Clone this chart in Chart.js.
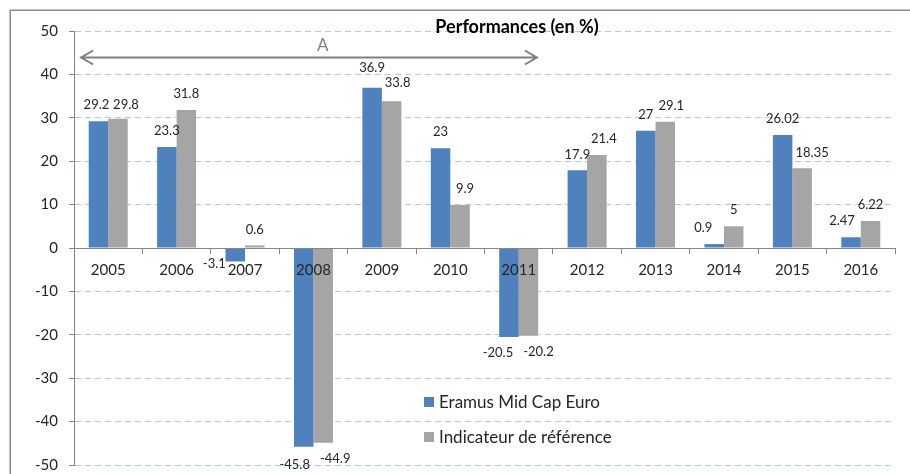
<!DOCTYPE html>
<html><head><meta charset="utf-8">
<script src="https://cdn.jsdelivr.net/npm/chart.js@4/dist/chart.umd.min.js"></script>
<style>html,body{margin:0;padding:0;background:#fff;overflow:hidden}#wrap{width:910px;height:474px;position:relative}</style>
</head><body><div id="wrap"><canvas id="c" width="910" height="474"></canvas></div>
<script>
const categories = ['2005','2006','2007','2008','2009','2010','2011','2012','2013','2014','2015','2016'];
const seriesNames = ['Eramus Mid Cap Euro', 'Indicateur de référence'];
const fundValues = [29.2, 23.3, -3.1, -45.8, 36.9, 23, -20.5, 17.9, 27, 0.9, 26.02, 2.47];
const benchValues = [29.8, 31.8, 0.6, -44.9, 33.8, 9.9, -20.2, 21.4, 29.1, 5, 18.35, 6.22];
const yTicks = [-50, -40, -30, -20, -10, 0, 10, 20, 30, 40, 50];
const titleText = 'Performances (en %)';
const arrowText = 'A';
const arrowFrom = 0, arrowTo = 6, arrowLevel = 44;

// small label nudges (px) mimicking Excel's manual label placement
const fundNudge = [[-2,0],[0,0],[-21,-14],[-9,2],[0,-4],[0,0],[-11,0],[0,0],[0,0],[-11,0],[0,0],[-9,0]];
const benchNudge = [[8,2],[0,0],[0,0],[12,0],[6,-2],[5,0],[10,0],[7,0],[6,0],[0,0],[10,0],[0,0]];

const FONT = 'Lato, "Open Sans", sans-serif';
const BLUE = '#4F81BD', GREY = '#A5A5A5', TXT = '#262626', AXIS = '#868686';

const decor = {
  id: 'decor',
  beforeDraw(chart) {
    const c = chart.ctx;
    c.save();
    c.fillStyle = '#fff';
    c.fillRect(0, 0, chart.width, chart.height);
    c.strokeStyle = '#8C8C8C';
    c.lineWidth = 1.5;
    c.strokeRect(10.25, 10.25, chart.width + 20, chart.height + 20);
    c.restore();
  },
  afterDatasetsDraw(chart) {
    const c = chart.ctx;
    const nudges = [fundNudge, benchNudge];
    c.save();
    c.font = '13px ' + FONT;
    c.fillStyle = TXT;
    c.textAlign = 'center';
    c.textBaseline = 'middle';
    chart.data.datasets.forEach((ds, di) => {
      const meta = chart.getDatasetMeta(di);
      meta.data.forEach((el, i) => {
        const v = ds.data[i];
        const n = nudges[di][i];
        const ty = v >= 0 ? el.y - 16 : el.y + 16;
        c.fillText(String(v), el.x + n[0], ty + n[1]);
      });
    });
    c.restore();
  },
  afterDraw(chart) {
    const c = chart.ctx;
    const xs = chart.scales.x, ys = chart.scales.y;
    const step = xs.getPixelForValue(1) - xs.getPixelForValue(0);
    c.save();
    // title
    c.font = 'bold 18px ' + FONT;
    c.fillStyle = '#000';
    c.textAlign = 'center';
    c.textBaseline = 'middle';
    c.fillText(titleText, 517, 27);
    // arrow
    const ay = Math.round(ys.getPixelForValue(arrowLevel)) + 0.5;
    const x1 = xs.getPixelForValue(arrowFrom) - step * 0.41;
    const x2 = xs.getPixelForValue(arrowTo) + step * 0.28;
    c.strokeStyle = '#7F7F7F';
    c.lineWidth = 2;
    c.beginPath();
    c.moveTo(x1, ay); c.lineTo(x2, ay);
    c.moveTo(x1 + 13, ay - 7); c.lineTo(x1 + 1, ay); c.lineTo(x1 + 13, ay + 7);
    c.moveTo(x2 - 13, ay - 7); c.lineTo(x2 - 1, ay); c.lineTo(x2 - 13, ay + 7);
    c.stroke();
    c.font = '17px ' + FONT;
    c.fillStyle = '#7F7F7F';
    c.fillText(arrowText, x1 + (x2 - x1) * 0.53, ay - 12);
    // legend
    const colors = [BLUE, GREY];
    c.font = '17px ' + FONT;
    c.textAlign = 'left';
    seriesNames.forEach((name, i) => {
      const ly = 402 + i * 35;
      c.fillStyle = colors[i];
      c.fillRect(424, ly - 5, 10, 10);
      c.fillStyle = TXT;
      c.fillText(name, 439, ly + 1);
    });
    c.restore();
  }
};

new Chart(document.getElementById('c'), {
  type: 'bar',
  data: {
    labels: categories,
    datasets: [
      { label: seriesNames[0], data: fundValues, backgroundColor: BLUE, barPercentage: 1, categoryPercentage: 0.57 },
      { label: seriesNames[1], data: benchValues, backgroundColor: GREY, barPercentage: 1, categoryPercentage: 0.57 }
    ]
  },
  options: {
    responsive: false,
    animation: false,
    devicePixelRatio: 1,
    layout: { padding: { left: 0, top: 31, right: 15, bottom: 9 } },
    plugins: { legend: { display: false }, title: { display: false }, tooltip: { enabled: false } },
    scales: {
      x: {
        position: { y: 0 },
        offset: true,
        grid: { drawOnChartArea: false, drawTicks: true, tickLength: 5, tickColor: AXIS, offset: true, z: 1 },
        border: { display: true, color: AXIS, width: 1, z: 1 },
        ticks: { font: { family: FONT, size: 15 }, color: TXT, padding: 8, maxRotation: 0, autoSkip: false, z: 1 }
      },
      y: {
        min: -50, max: 50,
        afterBuildTicks: s => { s.ticks = yTicks.map(v => ({ value: v })); },
        afterFit: s => { s.width = 74; s.paddingTop = 0; s.paddingBottom = 0; },
        grid: { color: '#B4C7E7', lineWidth: 1, drawTicks: true, tickLength: 5, tickColor: AXIS, tickBorderDash: [] },
        border: { display: true, color: AXIS, width: 1, dash: [6, 4] },
        ticks: { font: { family: FONT, size: 15 }, color: TXT, padding: 11 }
      }
    }
  },
  plugins: [decor]
});
</script>
</body></html>
